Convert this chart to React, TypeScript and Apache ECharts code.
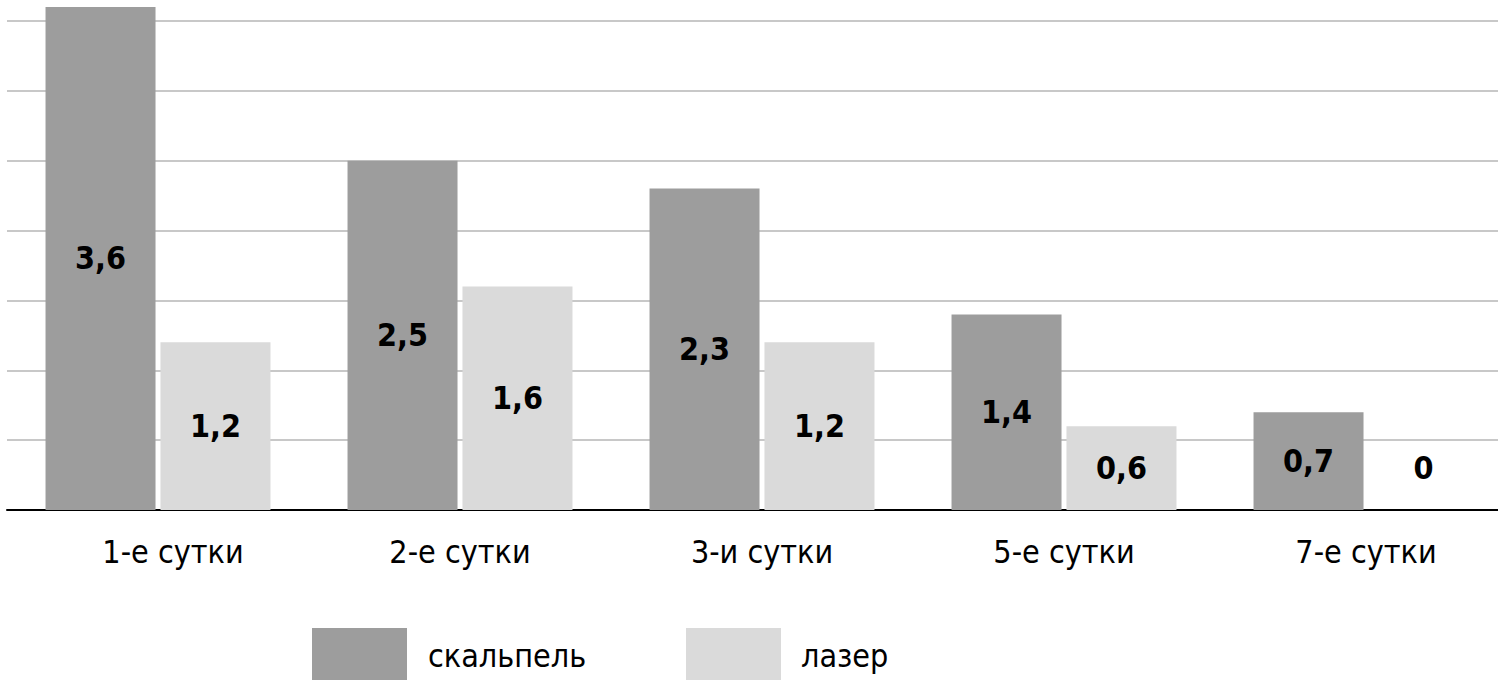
import React, { useEffect, useRef } from "react";
import * as echarts from "echarts";

const categories = ["1-е сутки", "2-е сутки", "3-и сутки", "5-е сутки", "7-е сутки"];
const scalpelValues = [3.6, 2.5, 2.3, 1.4, 0.7];
const laserValues = [1.2, 1.6, 1.2, 0.6, 0];
const seriesNames = ["скальпель", "лазер"];

const FONT = "'Liberation Sans Narrow', 'DejaVu Sans Condensed', 'Roboto Condensed', Roboto, sans-serif";

export default function App() {
  const ref = useRef<HTMLDivElement>(null);
  useEffect(() => {
    if (!ref.current) return;
    const chart = echarts.init(ref.current, undefined, { renderer: "svg" });
    const labelStyle = {
      show: true,
      position: "inside",
      color: "#000",
      fontFamily: FONT,
      fontWeight: "bold",
      fontSize: 32,
      formatter: (p: any) => String(p.value).replace(".", ","),
    };
    const toData = (vals: number[]) =>
      vals.map((v) =>
        v === 0 ? { value: v, label: { position: "top", distance: 26 } } : v
      );
    const legendBase = {
      top: 648,
      padding: 0,
      itemWidth: 95,
      itemHeight: 56,
      icon: "rect",
    };
    chart.setOption({
      animation: false,
      backgroundColor: "#ffffff",
      grid: { left: 27, right: 3, top: 13, bottom: 190, containLabel: false },
      legend: [
        {
          ...legendBase,
          data: [seriesNames[0]],
          left: 332,
          textStyle: { fontFamily: FONT, fontSize: 32, color: "#000", padding: [0, 0, 0, 16] },
        },
        {
          ...legendBase,
          data: [seriesNames[1]],
          left: 706,
          textStyle: { fontFamily: FONT, fontSize: 32, color: "#000", padding: [0, 0, 0, 15] },
        },
      ],
      xAxis: {
        type: "category",
        data: categories.map((c, i) =>
          i === 0 ? { value: c, textStyle: { padding: [0, 0, 0, 30] } } : c
        ),
        axisLine: { show: true, lineStyle: { color: "#000", width: 2 } },
        axisTick: { show: false },
        axisLabel: { fontFamily: FONT, fontSize: 32, color: "#000", margin: 26 },
      },
      yAxis: {
        type: "value",
        min: 0,
        max: 3.7,
        interval: 0.5,
        axisLine: { show: false },
        axisTick: { show: false },
        axisLabel: { show: false },
        splitLine: { lineStyle: { color: "#c8c8c8", width: 2 } },
      },
      series: [
        {
          name: seriesNames[0],
          type: "bar",
          data: toData(scalpelValues),
          barWidth: 110,
          barGap: "4.5%",
          itemStyle: { color: "#9d9d9d" },
          label: labelStyle,
        },
        {
          name: seriesNames[1],
          type: "bar",
          data: toData(laserValues),
          barWidth: 110,
          itemStyle: { color: "#dadada" },
          label: labelStyle,
        },
      ],
    });
    return () => chart.dispose();
  }, []);
  return (
    <div
      ref={ref}
      style={{ position: "fixed", left: -20, top: -20, width: 1540, height: 720 }}
    />
  );
}
